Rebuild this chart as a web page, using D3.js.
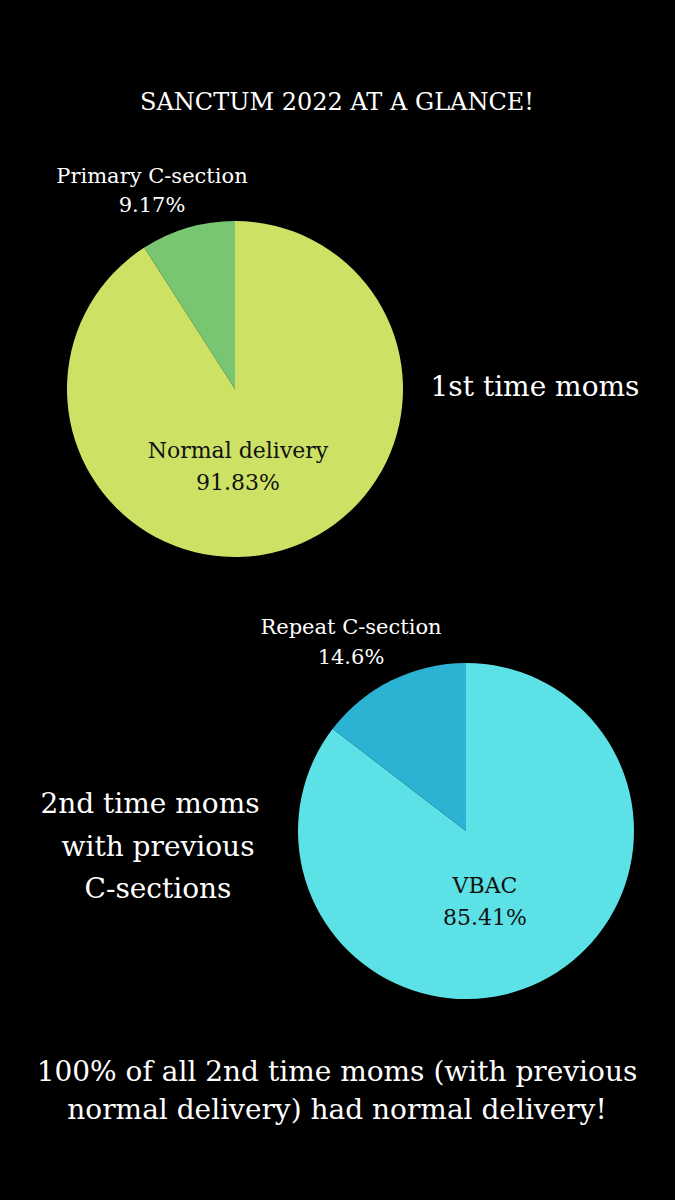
<!DOCTYPE html>
<html><head><meta charset="utf-8">
<script src="https://cdn.jsdelivr.net/npm/d3@7"></script>
<style>body{margin:0;background:#000}text{font-family:"DejaVu Serif","Liberation Serif",serif;fill:#fff}</style>
</head><body>
<script>
// data
var firstLabels = ["Normal delivery", "Primary C-section"];
var firstValues = [91.83, 9.17];
var secondLabels = ["VBAC", "Repeat C-section"];
var secondValues = [85.41, 14.6];

var W = 675, H = 1200;
var svg = d3.select("body").append("svg").attr("width", W).attr("height", H);
svg.append("rect").attr("width", W).attr("height", H).attr("fill", "#000");

function drawPie(cx, cy, r, values, colors) {
    var pie = d3.pie().sort(null)(values);
    var arc = d3.arc().innerRadius(0).outerRadius(r);
    var g = svg.append("g").attr("transform", "translate(" + cx + "," + cy + ")");
    g.selectAll("path").data(pie).enter().append("path")
        .attr("d", arc)
        .attr("fill", function(d, i) { return colors[i]; });
}

function label(x, y, str, size, color, anchor) {
    svg.append("text").attr("x", x).attr("y", y)
        .attr("text-anchor", anchor || "middle")
        .attr("font-size", size)
        .style("fill", color || "#fff")
        .text(str);
}

drawPie(235, 389, 168, firstValues, ["#cde265", "#78c671"]);
drawPie(466, 831, 168, secondValues, ["#5ce1e6", "#2cb3d4"]);

label(337, 110, "SANCTUM 2022 AT A GLANCE!", 24);

label(152, 183, firstLabels[1], 21);
label(152, 212, firstValues[1].toFixed(2) + "%", 21);
label(238, 458, firstLabels[0], 22, "#111");
label(238, 490, firstValues[0].toFixed(2) + "%", 22, "#111");
label(535, 396, "1st time moms", 28);

label(351, 634, secondLabels[1], 21);
label(351, 664, secondValues[1] + "%", 21);
label(485, 893, secondLabels[0], 22, "#111");
label(485, 925, secondValues[0].toFixed(2) + "%", 22, "#111");

label(150, 813, "2nd time moms", 28);
label(158, 856, "with previous", 28);
label(158, 898, "C-sections", 28);

label(337, 1081, "100% of all 2nd time moms (with previous", 28);
label(337, 1119, "normal delivery) had normal delivery!", 28);
</script>
</body></html>
